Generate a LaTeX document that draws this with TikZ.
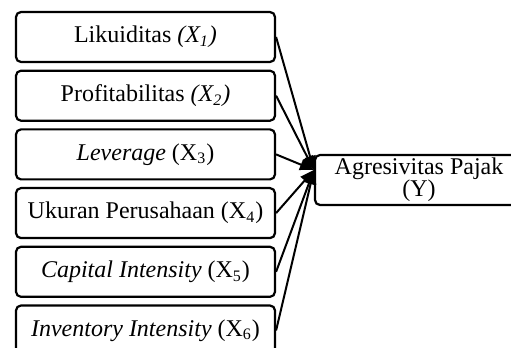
\documentclass[tikz,border=0pt]{standalone}
\usepackage{fontspec}
\setmainfont{Liberation Serif}
\usetikzlibrary{positioning}
\usetikzlibrary{arrows.meta}
\begin{document}
\begin{tikzpicture}[node distance=3.25pt, thick,
  var_style/.style={draw=black, line width=1.1pt, rounded corners=2.5pt, fill=white,
    minimum width=129.5pt, minimum height=25pt, inner sep=0pt,
    font=\fontsize{12}{11}\selectfont},
  arrow_style/.style={draw=black, line width=1pt, -{Triangle[length=7pt,width=5.5pt]}}]

  \useasboundingbox (0,0) rectangle (255.5pt,-174pt);

  \node (x1) [var_style] at (72.75pt,-18.5pt) {Likuiditas \textit{(X\textsubscript{1})}};
  \node (x2) [var_style, below=of x1] {Profitabilitas \textit{(X\textsubscript{2})}};
  \node (x3) [var_style, below=of x2] {\textit{Leverage} (X\textsubscript{3})};
  \node (x4) [var_style, below=of x3] {Ukuran Perusahaan (X\textsubscript{4})};
  \node (x5) [var_style, below=of x4] {\textit{Capital Intensity} (X\textsubscript{5})};
  \node (x6) [var_style, below=of x5] {\textit{Inventory Intensity} (X\textsubscript{6})};
  \node (y) [var_style, minimum width=104pt, align=center] at (209.5pt,-90pt) {Agresivitas Pajak\\(Y)};
  %
  \coordinate (tip) at ([yshift=5pt]y.west);
  \draw [arrow_style] (x1.east) -- (tip);
  \draw [arrow_style] (x2.east) -- (tip);
  \draw [arrow_style] (x3.east) -- (tip);
  \draw [arrow_style] (x4.east) -- (tip);
  \draw [arrow_style] (x5.east) -- (tip);
  \draw [arrow_style] (x6.east) -- (tip);
\end{tikzpicture}
\end{document}
